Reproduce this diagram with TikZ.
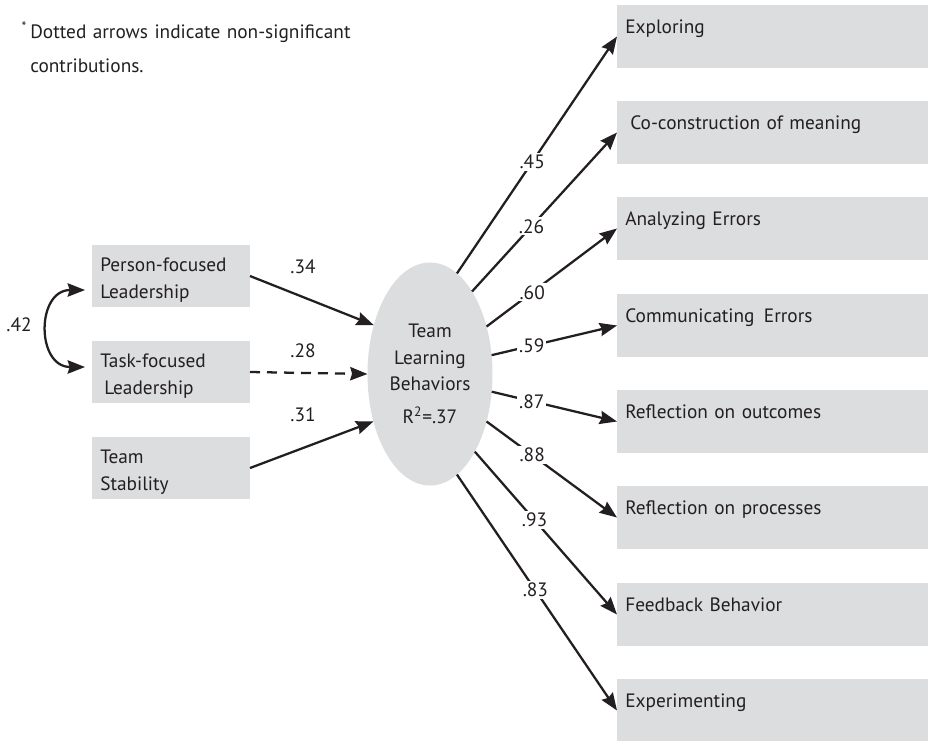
\documentclass[tikz,border=0pt]{standalone}
\usepackage{fontspec}
\setmainfont{PT Sans}
\usetikzlibrary{arrows.meta,shapes.geometric}
\definecolor{boxgray}{RGB}{220,221,223}
\definecolor{ink}{RGB}{35,31,32}

\begin{document}
\begin{tikzpicture}[x=0.75pt,y=-0.75pt,
  font=\fontsize{14.5pt}{20.25pt}\selectfont, text=ink,
  >={Stealth[length=13pt,width=10pt,inset=1.5pt]},
  rbox/.style={fill=boxgray, anchor=north west, minimum width=233.25pt,
    minimum height=47.25pt, inner sep=0pt, outer sep=0pt},
  lbox/.style={fill=boxgray, anchor=north west, minimum width=118.5pt,
    minimum height=46.5pt, inner sep=0pt, outer sep=0pt},
  txt/.style={anchor=base west, inner sep=0pt, text width=220pt, align=left},
  conn/.style={draw=ink, line width=1.7pt, ->},
  coef/.style={fill=white, inner sep=1.5pt},
  num/.style={anchor=base, inner sep=0pt},
  latent/.style={ellipse, fill=boxgray, minimum width=93.75pt,
    minimum height=167.25pt, inner sep=0pt, outer sep=0pt, align=center,
    font=\fontsize{14.5pt}{20pt}\selectfont},
]
\useasboundingbox (0,0) rectangle (928,740);

% footnote
\node[txt, text width=400pt, font=\fontsize{14.5pt}{25.5pt}\selectfont] (note) at (30,38)
  {\llap{\textsuperscript{*}\,}Dotted arrows indicate non-significant\\contributions.};

% predictors
\node[lbox] (pl) at (92,245) {};
\node[lbox] (tl) at (92,341) {};
\node[lbox] (ts) at (92,437) {};
\node[txt] (plt) at ([shift={(8,26)}]pl.north west) {Person-focused\\Leadership};
\node[txt] (tlt) at ([shift={(8,26)}]tl.north west) {Task-focused\\\hspace*{3pt}Leadership};
\node[txt] (tst) at ([shift={(8,26)}]ts.north west) {Team\\Stability};

% latent construct
\node[latent] (tlb) at (430,374)
  {Team\\Learning\\Behaviors\\[4.75pt]R\textsuperscript{2}=.37};

% outcome boxes
\foreach \i/\t in {1/5,2/101,3/197,4/294,5/390,6/486,7/583,8/679}
  \node[rbox] (r\i) at (617,\t) {};
\node[txt] (t1) at ([shift={(8,28)}]r1.north west) {Exploring};
\node[txt] (t2) at ([shift={(13,28)}]r2.north west) {Co-construction of meaning};
\node[txt] (t3) at ([shift={(8,28)}]r3.north west) {Analyzing Errors};
\node[txt] (t4) at ([shift={(8,28)}]r4.north west) {Communicating\hspace{7pt}Errors};
\node[txt] (t5) at ([shift={(8,28)}]r5.north west) {Reflection on outcomes};
\node[txt] (t6) at ([shift={(8,28)}]r6.north west) {Reflection on processes};
\node[txt] (t7) at ([shift={(8,28)}]r7.north west) {Feedback Behavior};
\node[txt] (t8) at ([shift={(8,28)}]r8.north west) {Experimenting};

% paths from predictors
\draw[conn] (pl.east) -- (tlb.139.3);
\draw[conn, dash pattern=on 7.5pt off 5.25pt] (tl.east) -- (tlb.180);
\draw[conn] (ts.east) -- (tlb.220);
\node[num] (c34) at (303,273) {.34};
\node[num] (c28) at (303,357) {.28};
\node[num] (c31) at (303,421) {.31};

% correlation between the leadership styles
\coordinate (ca) at (85,290);
\coordinate (cb) at (85,367);
\draw[conn, <->] (ca) .. controls (36,290) and (36,367) .. (cb);
\node[num] (c42) at (19,331) {.42};

% loadings
\draw[conn] (tlb.75.2)  -- node[coef, pos=0.47] (l1) {.45} (r1.west);
\draw[conn] (tlb.63.4)  -- node[coef, pos=0.41] (l2) {.26} (r2.west);
\draw[conn] (tlb.40.7)  -- node[coef, pos=0.35] (l3) {.60} (r3.west);
\draw[conn] (tlb.17.9)  -- node[coef, pos=0.32] (l4) {.59} (r4.west);
\draw[conn] (tlb.-16.2) -- node[coef, pos=0.32] (l5) {.87} (r5.west);
\draw[conn] (tlb.-40.1) -- node[coef, pos=0.35] (l6) {.88} (r6.west);
\draw[conn] (tlb.-60.3) -- node[coef, pos=0.42] (l7) {.93} (r7.west);
\draw[conn] (tlb.-75)   -- node[coef, pos=0.49] (l8) {.83} (r8.west);
\end{tikzpicture}
\end{document}
